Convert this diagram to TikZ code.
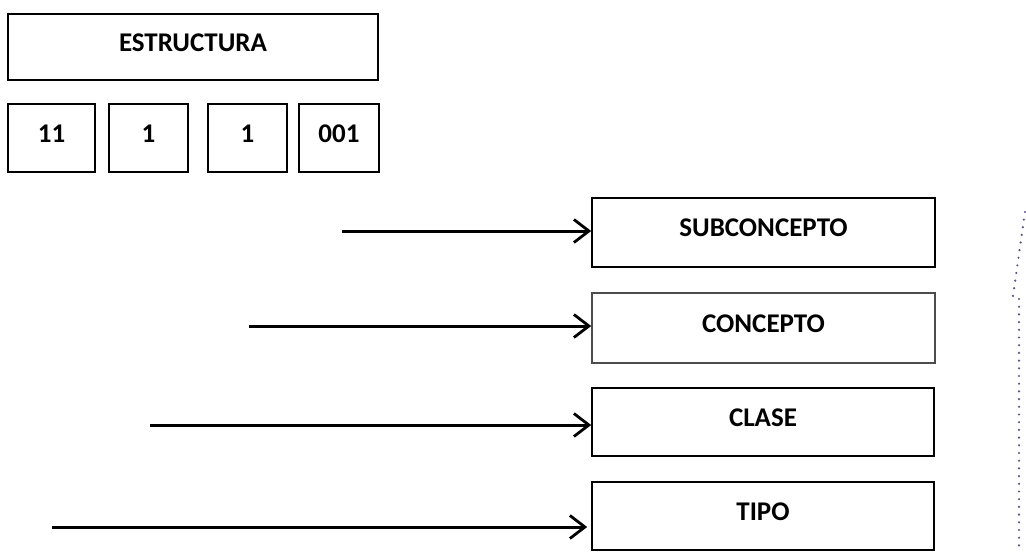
\documentclass[tikz,border=0pt]{standalone}
\usepackage{fontspec}
\setmainfont{Carlito}
\usetikzlibrary{arrows.meta}
\definecolor{dotcol}{HTML}{5E4F86}
\tikzset{
  box/.style={draw=black, line width=1.6pt, inner sep=0pt, font=\bfseries\fontsize{27}{32}\selectfont, text height=18pt, text depth=10pt},
  arr/.style={line width=3pt, -{Straight Barb[length=15pt,width=23pt,line width=2.8pt]}},
  dotline/.style={dotcol, line width=2.4pt, line cap=round, dash pattern=on 0pt off 7.7pt}
}
\begin{document}
\begin{tikzpicture}[x=1pt,y=-1pt]
\useasboundingbox (0,0) rectangle (1026,552);
% top-left structure
\node[box, minimum width=370pt, minimum height=66pt] (est) at (193,47) {ESTRUCTURA};
\node[box, minimum width=87pt, minimum height=68pt] (n1) at (51.5,138) {11};
\node[box, minimum width=79pt, minimum height=68pt] (n2) at (148.5,138) {1};
\node[box, minimum width=79pt, minimum height=68pt] (n3) at (247.5,138) {1};
\node[box, minimum width=80pt, minimum height=68pt] (n4) at (339,138) {001};
% right column
\node[box, minimum width=343pt, minimum height=69pt] (sub) at (763.5,232.5) {SUBCONCEPTO};
\node[box, minimum width=343pt, minimum height=70pt, draw=black!70] (con) at (763.5,328) {CONCEPTO};
\node[box, minimum width=342pt, minimum height=68pt] (cla) at (763,422) {CLASE};
\node[box, minimum width=342pt, minimum height=68pt] (tip) at (763,516) {TIPO};
% arrow starts
\coordinate (s1) at (342,231);
\coordinate (s2) at (249,326);
\coordinate (s3) at (150,425);
\coordinate (s4) at (52,527);
\draw[arr] (s1) -- (s1 -| sub.west);
\draw[arr] (s2) -- (s2 -| con.west);
\draw[arr] (s3) -- (s3 -| cla.west);
\draw[arr] (s4) -- ([xshift=-4pt]s4 -| tip.west);
% dotted line at right edge
\coordinate (d1) at (1025,212);
\coordinate (d2) at (1013,296);
\coordinate (d3) at (1019,299);
\coordinate (d4) at (1019,552);
\draw[dotline] (d1) -- (d2);
\draw[dotline] (d3) -- (d4);
\end{tikzpicture}
\end{document}
